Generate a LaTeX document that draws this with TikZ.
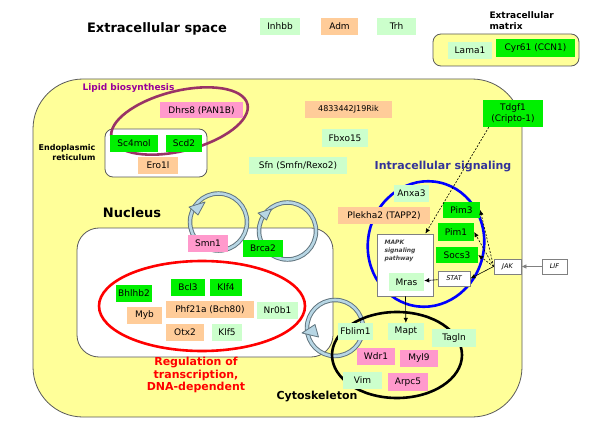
\documentclass[tikz,border=0pt]{standalone}
\usepackage{fontspec}
\setmainfont{DejaVu Sans}
\usetikzlibrary{arrows.meta}
\definecolor{cellyellow}{RGB}{255,255,153}
\definecolor{genegreen}{RGB}{0,240,0}
\definecolor{genemint}{RGB}{204,255,204}
\definecolor{genetan}{RGB}{255,204,153}
\definecolor{genepink}{RGB}{255,153,204}
\definecolor{lipidplum}{RGB}{153,51,102}
\definecolor{lipidtext}{RGB}{153,0,153}
\definecolor{signalblue}{RGB}{51,51,153}
\definecolor{ringfill}{RGB}{183,214,228}
\definecolor{ringline}{RGB}{95,115,125}
\definecolor{wallgray}{RGB}{90,90,90}
\tikzset{>={Latex[length=5pt,width=4.5pt]}}
\tikzset{
  gene/.style={inner sep=1pt, minimum height=17pt, font=\fontsize{9}{11}\selectfont},
  boxgreen/.style={gene, fill=genegreen},
  boxmint/.style={gene, fill=genemint},
  boxtan/.style={gene, fill=genetan},
  boxpink/.style={gene, fill=genepink},
  sigbox/.style={draw=gray, fill=white, line width=0.8pt, inner sep=1pt, minimum height=15pt, font=\fontsize{6.5}{8}\selectfont\itshape},
  heading/.style={font=\bfseries\fontsize{13}{15}\selectfont},
  ring/.style={draw=ringline, line width=4.5pt, postaction={draw=ringfill, line width=2.6pt}},
  ringhead/.style={fill=ringfill, draw=ringline, line width=0.8pt, line join=round},
  link/.style={->, line width=0.6pt},
}

\begin{document}
\begin{tikzpicture}[x=1pt,y=-1pt]
\useasboundingbox (0,0) rectangle (600,433);
\fill[white] (0,0) rectangle (600,433);
% compartments
\draw[wallgray, fill=cellyellow, line width=0.8pt, rounded corners=50pt] (33,79) rectangle (522,417);
\draw[wallgray, fill=cellyellow, line width=0.8pt, rounded corners=8pt] (433,34) rectangle (579,66);
\draw[wallgray, fill=white, line width=0.8pt, rounded corners=8pt] (105,129) rectangle (207,177);
\draw[wallgray, fill=white, line width=0.8pt, rounded corners=22pt] (77,228) rectangle (333,357);

\node[heading] (space) at (157,29) {Extracellular space};
\node[font=\bfseries\fontsize{9}{11}\selectfont, align=left, anchor=west] (matrix) at (486,20.5) {Extracellular\\matrix};
\node[font=\bfseries\fontsize{9}{11}\selectfont, lipidtext, anchor=west] (lipid) at (79,88) {Lipid biosynthesis};
\node[font=\bfseries\fontsize{8}{10}\selectfont, align=right, anchor=east] (er) at (99,153) {Endoplasmic\\reticulum};
\node[heading] (nucleus) at (132,213) {Nucleus};
\node[font=\bfseries\fontsize{11}{13}\selectfont, signalblue] (signal) at (443,167) {Intracellular signaling};
\node[font=\bfseries\fontsize{11}{12.5}\selectfont, red, align=center] (regul) at (196,375) {Regulation of\\transcription,\\DNA-dependent};
\node[font=\bfseries\fontsize{11}{13}\selectfont] (cyto) at (317,397) {Cytoskeleton};

% loops
\draw[ring] (218.5,222) circle[radius=28.5];
\draw[ringhead] (205,202) -- (189,207) -- (198,215) -- cycle;
\draw[ring] (287.5,231) circle[radius=28.5];
\draw[ringhead] (271.5,209) -- (258,213) -- (266.5,220) -- cycle;
\draw[ring] (335,328) circle[radius=28];
\draw[ringhead] (302,333) -- (315,324.5) -- (318.5,337) -- cycle;

% processes
\draw[lipidplum, line width=2.6pt, rotate around={14:(179.5,121)}] (179.5,121) ellipse[x radius=70, y radius=30];
\draw[red, line width=2.6pt] (202,306) ellipse[x radius=103, y radius=45];
\draw[blue, line width=2.6pt, rotate around={-13:(426,244)}] (426,244) ellipse[x radius=58, y radius=63];
\draw[black, line width=2.6pt] (397,355) ellipse[x radius=65, y radius=43];

% signalling
\node[draw=gray, fill=white, line width=0.8pt, minimum width=56, minimum height=62] (mapk) at (405,265) {};
\node[anchor=north west, align=left, text=darkgray, font=\bfseries\itshape\fontsize{6}{7.8}\selectfont] (mapktext) at (381,237) {MAPK\\signaling\\pathway};
\node[sigbox, minimum width=32] (stat) at (454,278.5) {STAT};
\node[sigbox, minimum width=27] (jak) at (507.5,266.5) {JAK};
\node[sigbox, minimum width=25] (lif) at (554.5,266.5) {LIF};

% genes
\node[boxmint, minimum width=40] (inhbb) at (280,26.5) {Inhbb};
\node[boxtan, minimum width=37] (adm) at (339.5,26.5) {Adm};
\node[boxmint, minimum width=39] (trh) at (396.5,26.5) {Trh};
\node[boxmint, minimum width=44] (lama) at (470,50.5) {Lama1};
\node[boxgreen, minimum width=79, minimum height=18] (cyr) at (535.5,48) {Cyr61 (CCN1)};
\node[boxpink, minimum width=83, minimum height=16] (dhrs) at (201.5,110.5) {Dhrs8 (PAN1B)};
\node[boxgreen, minimum width=48] (sc4) at (134,143.5) {Sc4mol};
\node[boxgreen, minimum width=36] (scd) at (184,143.5) {Scd2};
\node[boxtan, minimum width=40] (ero) at (158,165.5) {Ero1l};
\node[boxtan, minimum width=87, font=\fontsize{8}{10}\selectfont] (rik) at (348.5,109.5) {4833442J19Rik};
\node[boxmint, minimum width=46, minimum height=18] (fbxo) at (345,138) {Fbxo15};
\node[boxmint, minimum width=98] (sfn) at (298,165.5) {Sfn (Smfn/Rexo2)};
\node[boxgreen, minimum width=60, minimum height=27, align=center] (tdgf) at (513,113.5) {Tdgf1\\(Cripto-1)};
\node[boxmint, minimum width=35] (anxa) at (411.5,193.5) {Anxa3};
\node[boxtan, minimum width=92] (plekha) at (384,215.5) {Plekha2 (TAPP2)};
\node[boxgreen, minimum width=37, minimum height=16] (pim3) at (461.5,210) {Pim3};
\node[boxgreen, minimum width=36, minimum height=18] (pim1) at (456,232) {Pim1};
\node[boxgreen, minimum width=42, minimum height=16] (socs) at (457,255) {Socs3};
\node[boxmint, minimum width=35, minimum height=18] (mras) at (406.5,282) {Mras};
\node[boxpink, minimum width=40] (smn) at (208,243.5) {Smn1};
\node[boxgreen, minimum width=40] (brca) at (263,248.5) {Brca2};
\node[boxgreen, minimum width=36] (bhlhb) at (134,293.5) {Bhlhb2};
\node[boxgreen, minimum width=34] (bcl) at (188,287.5) {Bcl3};
\node[boxgreen, minimum width=32] (klf4) at (226,287.5) {Klf4};
\node[boxtan, minimum width=35] (myb) at (144.5,315.5) {Myb};
\node[boxtan, minimum width=88] (phf) at (210,309.5) {Phf21a (Bch80)};
\node[boxmint, minimum width=41] (nr0b) at (277.5,310.5) {Nr0b1};
\node[boxtan, minimum width=38] (otx) at (185,332) {Otx2};
\node[boxmint, minimum width=30] (klf5) at (227,332) {Klf5};
\node[boxmint, minimum width=35] (fblim) at (355.5,331.5) {Fblim1};
\node[boxmint, minimum width=36] (mapt) at (406,331.5) {Mapt};
\node[boxmint, minimum width=44, minimum height=18] (tagln) at (454,338) {Tagln};
\node[boxpink, minimum width=38] (wdr) at (376,356.5) {Wdr1};
\node[boxpink, minimum width=38] (myl) at (419,358.5) {Myl9};
\node[boxmint, minimum width=39] (vim) at (362.5,380.5) {Vim};
\node[boxpink, minimum width=40, minimum height=18] (arpc) at (408,382) {Arpc5};

% arrows
\draw[link, gray] (lif) -- (jak);
\draw[link] (jak.west) -- (stat.east);
\draw[link] (stat) -- (mras);
\draw[link, dash pattern=on 2pt off 1.5pt] (jak.west) -- (socs.east);
\draw[link, dash pattern=on 2pt off 1.5pt] (jak.west) -- (pim1.east);
\draw[link, dash pattern=on 2pt off 1.5pt] (jak.west) -- (pim3.east);
\draw[link, dash pattern=on 2pt off 1.5pt] ([xshift=6pt]tdgf.south west) -- ([xshift=-8pt]mapk.north east);
\draw[link] (mapk) -- (mapt);
\end{tikzpicture}
\end{document}
